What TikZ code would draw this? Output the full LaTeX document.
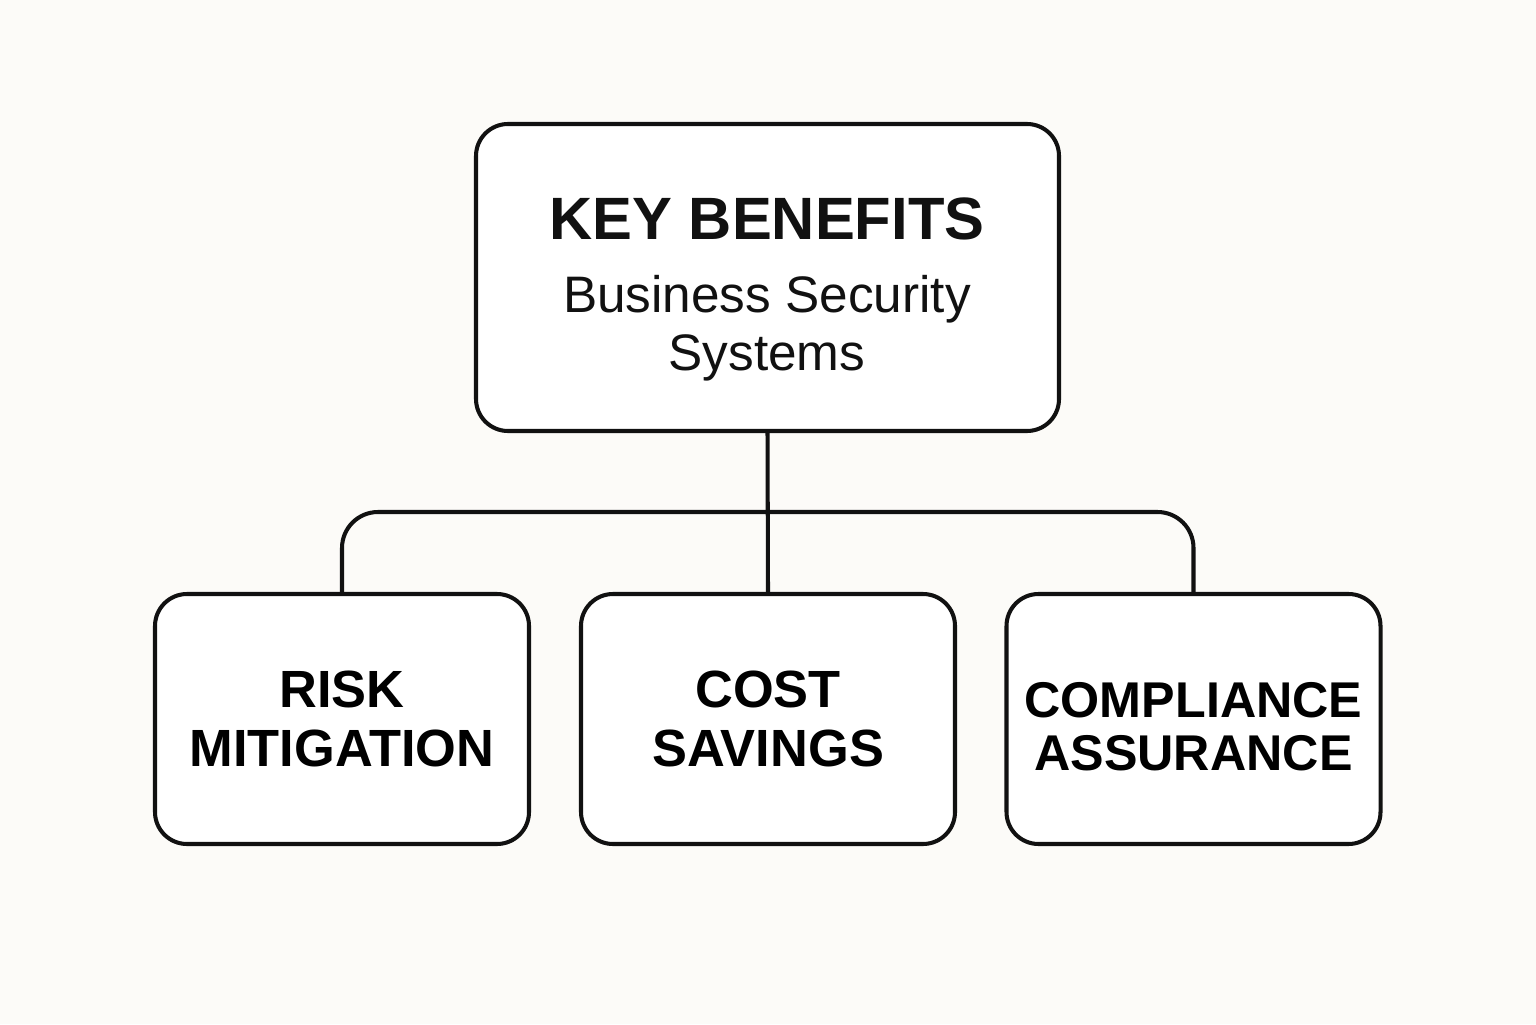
\documentclass[tikz,border=0pt]{standalone}
\usepackage{fontspec}
\setmainfont{Liberation Sans}
\usetikzlibrary{positioning,calc}
\definecolor{kbPaper}{HTML}{FCFBF8}
\definecolor{kbInk}{HTML}{111111}

\begin{document}
\begin{tikzpicture}[x=1cm,y=1cm]
\tikzset{
  top/.style={rectangle, rounded corners=0.32cm, draw=kbInk, fill=white, line width=1.15pt,
              minimum width=5.83cm, minimum height=3.07cm, inner sep=0pt},
  b/.style={rectangle, rounded corners=0.32cm, draw=kbInk, fill=white, line width=1.15pt,
            minimum width=3.74cm, minimum height=2.5cm, align=center, inner sep=0pt,
            font=\fontsize{14.9}{17}\selectfont\bfseries},
  t/.style={anchor=base, inner sep=0pt, text=kbInk},
  l/.style={draw=kbInk, line width=1.15pt, rounded corners=0.36cm}
}
% Page
\fill[kbPaper] (0,0) rectangle (15.36,10.24);
\useasboundingbox (0,0) rectangle (15.36,10.24);

% Top box and its three lines
\node[top] (kb) at (7.675,7.465) {};
\node[t, font=\fontsize{17}{20}\selectfont\bfseries] (kbtitle) at (7.67,7.84) {KEY BENEFITS};
\node[t, font=\fontsize{14.6}{17}\selectfont] (kbsub) at (7.67,7.12) {Business Security};
\node[t, font=\fontsize{14.6}{17}\selectfont] (kbsys) at (7.67,6.54) {Systems};

% Benefit boxes
\node[b] (risk) at (3.42,3.05) {RISK\\MITIGATION};
\node[b] (cost) at (7.68,3.05) {COST\\SAVINGS};
\node[b] (comp) at (11.935,3.05) {};
\node[align=center, inner sep=0pt, font=\fontsize{14.3}{15}\selectfont\bfseries, yshift=-0.08cm]
  (comptext) at (comp) {COMPLIANCE\\ASSURANCE};

% Connectors
\coordinate (bar) at (7.68,5.12);
\draw[l] (kb.south) -- (cost.north);
\draw[l] (risk.north) |- (bar) -| (comp.north);
\end{tikzpicture}
\end{document}
